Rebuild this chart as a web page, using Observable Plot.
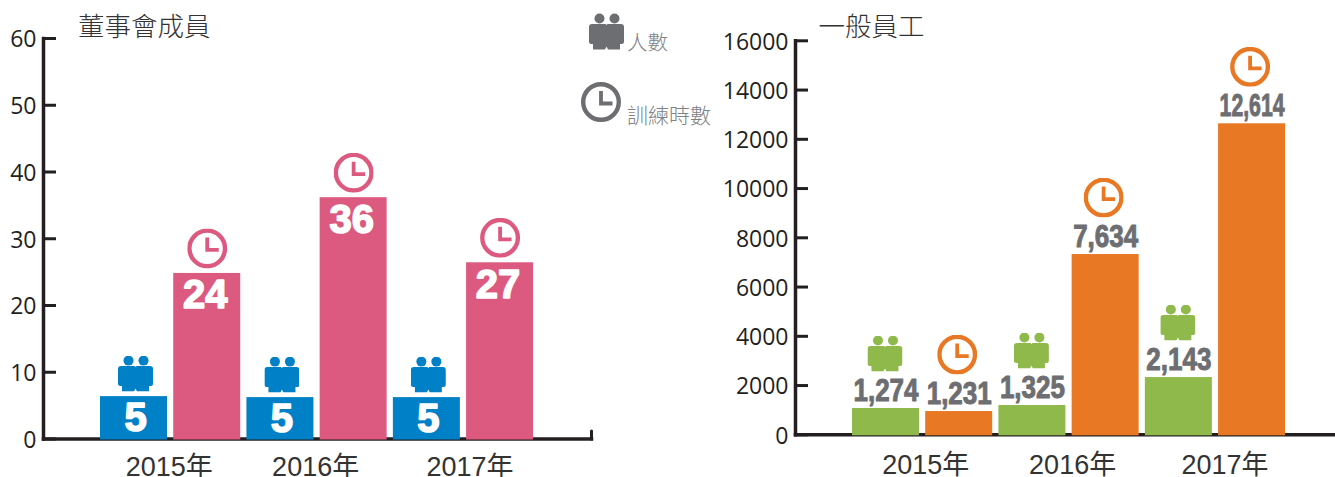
<!DOCTYPE html>
<html lang="zh-Hant">
<head>
<meta charset="utf-8">
<script src="https://cdn.jsdelivr.net/npm/d3@7"></script>
<script src="https://cdn.jsdelivr.net/npm/@observablehq/plot@0.6"></script>
<style>
html,body{margin:0;padding:0;background:#fff;}
#root{position:relative;width:1335px;height:477px;overflow:hidden;}
.lg{position:absolute;color:#808285;font-family:"Noto Sans CJK TC";font-weight:300;white-space:nowrap;line-height:1;}
</style>
</head>
<body>
<div id="root"></div>
<script>
const years = ["2015年", "2016年", "2017年"];
const boardTitle = "董事會成員";
const staffTitle = "一般員工";
const peopleName = "人數";
const hoursName = "訓練時數";

const boardPeople = [6.35, 6.2, 6.2];
const boardHours = [24.8, 36.15, 26.4];
const boardPeopleLabels = ["5", "5", "5"];
const boardHoursLabels = ["24", "36", "27"];
const staffPeople = [1067, 1189, 2325];
const staffHours = [945, 7320, 12630];
const staffPeopleLabels = ["1,274", "1,325", "2,143"];
const staffHoursLabels = ["1,231", "7,634", "12,614"];

const boardTicks = [0, 10, 20, 30, 40, 50, 60];
const staffTicks = [0, 2000, 4000, 6000, 8000, 10000, 12000, 14000, 16000];

const INK = "#231f20";
const svgUri = s => "data:image/svg+xml," + encodeURIComponent(s);
const personIcon = c => svgUri(`<svg xmlns="http://www.w3.org/2000/svg" viewBox="0 0 35 36"><g fill="${c}"><circle cx="10.5" cy="5" r="5"/><circle cx="25.5" cy="5" r="5"/><path d="M3 10.5H16.5L17.5 11.5L18.5 10.5H32a3 3 0 0 1 3 3V28a2.5 2.5 0 0 1-2.5 2.5H31V36H19L17.5 33L16 36H4V30.5H2.5A2.5 2.5 0 0 1 0 28V13.5a3 3 0 0 1 3-3Z"/></g></svg>`);
const clockIcon = c => svgUri(`<svg xmlns="http://www.w3.org/2000/svg" viewBox="0 0 40 40"><circle cx="20" cy="20" r="17.8" fill="#fff" stroke="${c}" stroke-width="4.4"/><path d="M20 9V21.5H31.5" fill="none" stroke="${c}" stroke-width="3.8"/></svg>`);

const cap = {draw(ctx, l) { ctx.moveTo(0, 0); ctx.lineTo(0, -l); }};

// squeezes the printed labels to the condensed width seen in the reference
const fitWidth = w => (index, scales, values, dims, ctx, next) => {
  const g = next(index, scales, values, dims, ctx);
  if (w) g.querySelectorAll("text").forEach(t => {
    t.setAttribute("textLength", w);
    t.setAttribute("lengthAdjust", "spacingAndGlyphs");
  });
  return g;
};

function panel(o) {
  const rows = [];
  years.forEach((year, i) => {
    rows.push({cat: year + "p", kind: "p", v: o.people[i], label: o.peopleLabels[i]});
    rows.push({cat: year + "h", kind: "h", v: o.hours[i], label: o.hoursLabels[i]});
  });
  const pr = rows.filter(d => d.kind === "p");
  const hr = rows.filter(d => d.kind === "h");
  return Plot.plot({
    width: o.width, height: 477,
    marginLeft: o.marginLeft, marginRight: o.marginRight, marginTop: o.marginTop, marginBottom: o.marginBottom,
    style: {position: "absolute", top: "0px", left: o.left + "px", background: "transparent", fontFamily: '"Open Sans"', maxWidth: "none"},
    x: {type: "band", domain: rows.map(d => d.cat), paddingInner: 0.085, paddingOuter: o.outer, align: o.align, round: false, axis: null},
    y: {domain: o.domain, nice: false, axis: null, label: null},
    marks: [
      Plot.frame({anchor: "left", stroke: INK, strokeWidth: 3.5}),
      Plot.frame({anchor: "bottom", stroke: INK, strokeWidth: 3.5}),
      Plot.axisY({ticks: o.ticks, tickFormat: () => "", tickSize: -13, stroke: INK, strokeWidth: 3, label: null}),
      Plot.axisY({ticks: o.ticks, tickFormat: d3.format("d"), tickSize: 0, tickPadding: 7, dy: 1.5, fontSize: 23, fill: INK, label: null}),
      o.cap ? Plot.vector([0], {frameAnchor: "bottom-right", length: 8, anchor: "start", rotate: 0, shape: cap, stroke: INK, strokeWidth: 3}) : null,
      Plot.barY(pr, {x: "cat", y: "v", fill: o.c1, insetBottom: -1}),
      Plot.barY(hr, {x: "cat", y: "v", fill: o.c2, insetBottom: -1}),
      Plot.image(pr, {x: "cat", y: "v", src: () => personIcon(o.c1), width: 35, height: 36, dx: o.personDx, dy: o.personDy}),
      Plot.image(hr, {x: "cat", y: "v", src: () => clockIcon(o.c2), width: 40, height: 40, dx: o.clockDx, dy: o.clockDy}),
      Plot.text(pr, {x: "cat", y: "v", text: "label", dx: o.peopleLabelDx, dy: o.labelDy, lineAnchor: "middle", render: fitWidth(o.labelWidth), ...o.labelStyle}),
      Plot.text(hr, {x: "cat", y: "v", text: "label", dx: o.hoursLabelDx, dy: o.labelDy, lineAnchor: "middle", render: fitWidth(o.labelWidth), ...o.labelStyle}),
      ...years.map((year, i) => Plot.text([year], {x: () => year + "h", frameAnchor: "bottom", lineAnchor: "middle", dx: o.yearDx[i], dy: o.yearDy, fontSize: 27, fill: "#333", fontFamily: '"Liberation Sans","Noto Sans CJK TC"'})),
      Plot.text([o.title], {frameAnchor: "top-left", lineAnchor: "middle", dx: o.titleDx, dy: o.titleDy, fontSize: 26.5, fill: "#333", fontWeight: 300, fontFamily: '"Noto Sans CJK TC"'})
    ]
  });
}

const root = document.getElementById("root");
root.append(panel({
  left: 0, width: 600, marginLeft: 43, marginRight: 9, marginTop: 38, marginBottom: 38.5,
  outer: 0.785, align: 0.496, domain: [0, 60], ticks: boardTicks, cap: true,
  people: boardPeople, hours: boardHours, peopleLabels: boardPeopleLabels, hoursLabels: boardHoursLabels,
  c1: "#0080c6", c2: "#dc5a80", personDx: 1.5, personDy: -23, clockDx: 0, clockDy: -25, labelDy: 22,
  peopleLabelDx: 1.5, hoursLabelDx: -2,
  labelStyle: {fill: "#fff", stroke: "#fff", strokeWidth: 1.6, fontSize: 40, fontWeight: 700, fontFamily: '"Liberation Sans"'},
  yearDx: [-38, -38, -30], yearDy: 28, title: boardTitle, titleDx: 34.5, titleDy: -11
}));
root.append(panel({
  left: 720, width: 615, marginLeft: 75, marginRight: 0, marginTop: 40.3, marginBottom: 42.7,
  outer: 0.73, align: 0.533, domain: [0, 16000], ticks: staffTicks, cap: false,
  people: staffPeople, hours: staffHours, peopleLabels: staffPeopleLabels, hoursLabels: staffHoursLabels,
  c1: "#8fb94b", c2: "#e97824", personDx: -1, personDy: -55, clockDx: -2, clockDy: -57, labelDy: -18,
  peopleLabelDx: 0, hoursLabelDx: 0,
  labelStyle: {fill: "#6d6e71", stroke: "#6d6e71", strokeWidth: 1, fontSize: 32, fontWeight: 700, fontFamily: '"Liberation Sans"'},
  labelWidth: 65,
  yearDx: [-33.5, -33, -27], yearDy: 31, title: staffTitle, titleDx: 23, titleDy: -13
}));

// legend, placed between the two panels
function legendRow(src, w, h, ix, iy, name, tx, ty, fs) {
  const img = document.createElement("img");
  img.src = src; img.width = w; img.height = h;
  img.style.cssText = `position:absolute;left:${ix}px;top:${iy}px`;
  const t = document.createElement("div");
  t.className = "lg"; t.textContent = name;
  t.style.cssText = `left:${tx}px;top:${ty}px;font-size:${fs}px`;
  root.append(img, t);
}
legendRow(personIcon("#6d6e71"), 35, 37, 589, 13, peopleName, 627, 31, 20.5);
legendRow(clockIcon("#6d6e71"), 40, 40, 581, 82, hoursName, 627, 104, 21);
</script>
</body>
</html>
